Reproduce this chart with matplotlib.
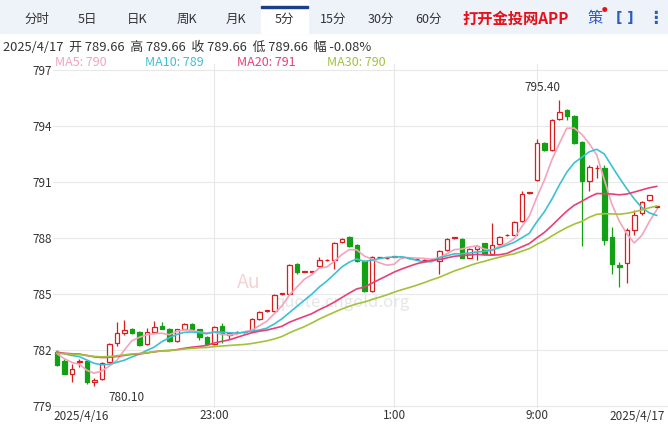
import matplotlib
matplotlib.use("Agg")
import matplotlib.pyplot as plt
import matplotlib.patches as patches
import numpy as np
import pandas as pd

plt.rcParams['font.family'] = ['Noto Sans CJK SC', 'DejaVu Sans']

# closes before the visible window (only feed the moving averages), estimated
prior_closes = [781.6, 781.7, 781.8, 781.9, 782.0, 781.9, 781.8, 781.7, 781.6, 781.5,
                781.5, 781.6, 781.7, 781.8, 781.9, 782.0, 782.1, 782.0, 781.9, 781.8,
                781.8, 781.9, 782.0, 782.1, 782.2, 782.1, 782.0, 781.9, 781.9]
# 5-minute candles
opens = [781.9, 781.4, 780.7, 781.35, 781.4, 780.3, 780.45, 781.35, 782.35, 782.9,
         783.1, 782.95, 782.3, 782.95, 783.3, 783.15, 782.5, 783.15, 783.4, 783.1,
         782.7, 782.3, 783.3, 782.8, 782.95, 782.95, 783.0, 783.65, 784.1, 784.1,
         785.0, 785.0, 786.6, 786.2, 786.2, 786.5, 786.8, 786.8, 787.8, 788.05,
         787.6, 786.75, 785.15, 786.95, 786.9, 787.0, 786.95, 786.9, 786.85, 786.8,
         786.8, 786.76, 787.33, 788.0, 787.96, 786.94, 787.43, 787.7, 787.15, 787.65,
         788.15, 788.18, 788.9, 790.4, 791.1, 793.1, 792.7, 794.35, 794.86, 794.52,
         793.14, 791.05, 791.72, 791.72, 788.04, 786.55, 786.67, 788.44, 789.33, 790.0,
         789.66]
closes = [781.2, 780.7, 781.0, 781.4, 780.3, 780.4, 781.3, 782.3, 782.9, 783.05,
          782.9, 782.25, 782.95, 783.25, 783.15, 782.5, 783.1, 783.4, 783.1, 782.7,
          782.3, 783.25, 782.85, 782.9, 782.95, 782.95, 783.65, 784.05, 784.1, 784.95,
          785.0, 786.55, 786.2, 786.2, 786.2, 786.8, 786.8, 787.75, 787.95, 787.55,
          786.75, 785.15, 786.95, 786.95, 786.9, 787.0, 786.95, 786.9, 786.85, 786.8,
          786.8, 787.3, 787.96, 788.0, 786.94, 787.38, 787.55, 787.15, 787.6, 788.04,
          788.15, 788.85, 790.35, 790.4, 793.05, 792.7, 794.3, 794.74, 794.52, 793.1,
          791.05, 791.81, 791.72, 787.9, 786.6, 786.45, 788.44, 789.24, 789.91, 790.27,
          789.66]
highs = [782.0, 781.5, 781.25, 781.5, 781.45, 780.5, 781.35, 782.35, 783.5, 783.6,
         783.2, 783.0, 783.2, 783.55, 783.5, 783.2, 783.15, 783.45, 783.45, 783.15,
         782.75, 783.3, 783.45, 782.95, 783.0, 783.0, 783.7, 784.1, 784.15, 785.0,
         785.05, 786.6, 786.65, 786.25, 786.25, 786.95, 786.85, 787.8, 788.0, 788.1,
         787.65, 786.8, 787.05, 787.0, 786.95, 787.05, 787.0, 786.95, 786.9, 786.85,
         786.85, 787.35, 788.0, 788.05, 788.0, 787.45, 787.6, 787.75, 788.8, 788.1,
         788.2, 788.9, 790.5, 790.45, 793.3, 793.15, 794.35, 795.4, 794.9, 794.55,
         793.2, 791.9, 791.9, 791.9, 788.6, 786.7, 788.55, 789.5, 789.95, 790.3,
         789.7]
lows = [781.15, 780.7, 780.3, 781.1, 780.2, 780.1, 780.4, 781.3, 782.2, 782.8,
        782.85, 782.2, 782.25, 782.9, 783.1, 782.45, 782.45, 783.1, 783.05, 782.55,
        782.25, 782.25, 782.4, 782.6, 782.9, 782.9, 782.95, 783.6, 784.05, 784.05,
        784.95, 784.95, 786.05, 786.15, 786.15, 786.45, 786.75, 786.35, 787.75, 787.5,
        786.7, 785.1, 785.1, 786.9, 786.85, 786.95, 786.9, 786.85, 786.8, 786.75,
        786.75, 786.05, 787.3, 787.95, 786.9, 786.9, 786.8, 787.1, 787.1, 787.6,
        788.1, 788.15, 788.85, 790.35, 791.05, 792.65, 792.65, 794.3, 794.3, 793.0,
        787.56, 790.5, 791.2, 787.6, 786.05, 785.35, 785.6, 788.15, 789.25, 789.95,
        789.62]
y_ticks = [779, 782, 785, 788, 791, 794, 797]
x_tick_pos = [21, 45, 64]
x_tick_labels = ["23:00", "1:00", "9:00"]
ma_windows = [5, 10, 20, 30]
ma_colors = ["#f4a3bd", "#3cc1d3", "#e83f78", "#a3c23a"]

UP = "#d81e1e"
DOWN = "#14a014"

fig = plt.figure(figsize=(6.68, 4.24), dpi=100)
W, H = 668, 424

# tab bar
fig.patches.append(patches.Rectangle((0, 1 - 33 / H), 1, 33 / H, transform=fig.transFigure,
                                     color="#eef2f9", zorder=0))
fig.patches.append(patches.Rectangle((261 / W, 1 - 33 / H), 47 / W, 33 / H, transform=fig.transFigure,
                                     color="white", zorder=1))
fig.patches.append(patches.Rectangle((261 / W, 1 - 8 / H), 47 / W, 2 / H, transform=fig.transFigure,
                                     color="#1c3f8c", zorder=2))
tabs = [("分时", 37), ("5日", 87), ("日K", 137), ("周K", 187), ("月K", 236),
        ("5分", 284), ("15分", 333), ("30分", 381), ("60分", 429)]
for t, x in tabs:
    fig.text(x / W, 1 - 19 / H, t, ha="center", va="center", fontsize=9, color="#333333", zorder=3)
fig.text(462 / W, 1 - 19 / H, "打开金投网APP", ha="left", va="center", fontsize=11,
         color="#e8101a", fontweight="bold", zorder=3)
fig.text(595 / W, 1 - 19 / H, "策", ha="center", va="center", fontsize=11, color="#2a5cc4", zorder=3)
fig.text(604 / W, 1 - 11 / H, "●", ha="center", va="center", fontsize=4, color="#e8101a", zorder=3)
fig.text(625 / W, 1 - 18 / H, "[ ]", ha="center", va="center", fontsize=10, color="#2a5cc4",
         family="DejaVu Sans", fontweight="bold", zorder=3)
fig.text(655 / W, 1 - 18 / H, "⋮", ha="center", va="center", fontsize=12, color="#2a5cc4",
         family="DejaVu Sans", fontweight="bold", zorder=3)

fig.text(3 / W, 1 - 47 / H, "2025/4/17  开 789.66  高 789.66  收 789.66  低 789.66  幅 -0.08%",
         ha="left", va="center", fontsize=9.3, color="#333333")
ma_last = {5: 790, 10: 789, 20: 791, 30: 790}
for w, c, x in zip(ma_windows, ma_colors, [55, 145, 237, 327]):
    fig.text(x / W, 1 - 63 / H, f"MA{w}: {ma_last[w]}", ha="left", va="center", fontsize=9, color=c)

# chart area
ax = fig.add_axes([53 / W, 16 / H, 615 / W, (412 - 68) / H])
idx = np.arange(len(opens))
o = np.array(opens); c = np.array(closes); h = np.array(highs); l = np.array(lows)
up = c >= o
for i in idx:
    col = UP if up[i] else DOWN
    ax.vlines(i, l[i], h[i], color=col, lw=0.9, zorder=3)
    bot = min(o[i], c[i]); ht = max(abs(c[i] - o[i]), 0.03)
    ax.bar(i, ht, bottom=bot, width=0.6, facecolor="white" if up[i] else DOWN,
           edgecolor=col, lw=0.9, zorder=4)

cs = pd.Series(prior_closes + closes)
n0 = len(prior_closes)
for w, col in zip(ma_windows, ma_colors):
    ax.plot(idx, cs.rolling(w, min_periods=1).mean().values[n0:], color=col, lw=1.2, zorder=5)

ax.annotate("795.40", (67, 795.4), xytext=(-12, 4), textcoords="offset points",
            ha="center", va="bottom", fontsize=8.5, color="#333333")
ax.annotate("780.10", (5, 780.1), xytext=(10, -4), textcoords="offset points",
            ha="left", va="top", fontsize=8.5, color="#333333")

# watermark
ax.text(24, 785.3, "Au", fontsize=14, color="#f2c8c8", alpha=0.8, zorder=1)
ax.text(29, 784.3, "quote.cngold.org", fontsize=12, color="#e6e6e6", zorder=1)

ax.set_xlim(-0.5, 81.5)
ax.set_ylim(778.9, 797.3)
ax.set_yticks(y_ticks)
ax.set_yticklabels([str(v) for v in y_ticks])
ax.set_xticks(x_tick_pos)
ax.set_xticklabels(x_tick_labels)
ax.grid(True, color="#e8e8e8", lw=0.8, zorder=0)
ax.tick_params(length=0, labelsize=8.5, colors="#333333", pad=1)
for s in ax.spines.values():
    s.set_visible(False)
ax.text(0, -0.005, "2025/4/16", transform=ax.transAxes, ha="left", va="top", fontsize=8.5, color="#333333")
ax.text(0.995, -0.005, "2025/4/17", transform=ax.transAxes, ha="right", va="top", fontsize=8.5, color="#333333")

fig.savefig("out.png", dpi=100)
